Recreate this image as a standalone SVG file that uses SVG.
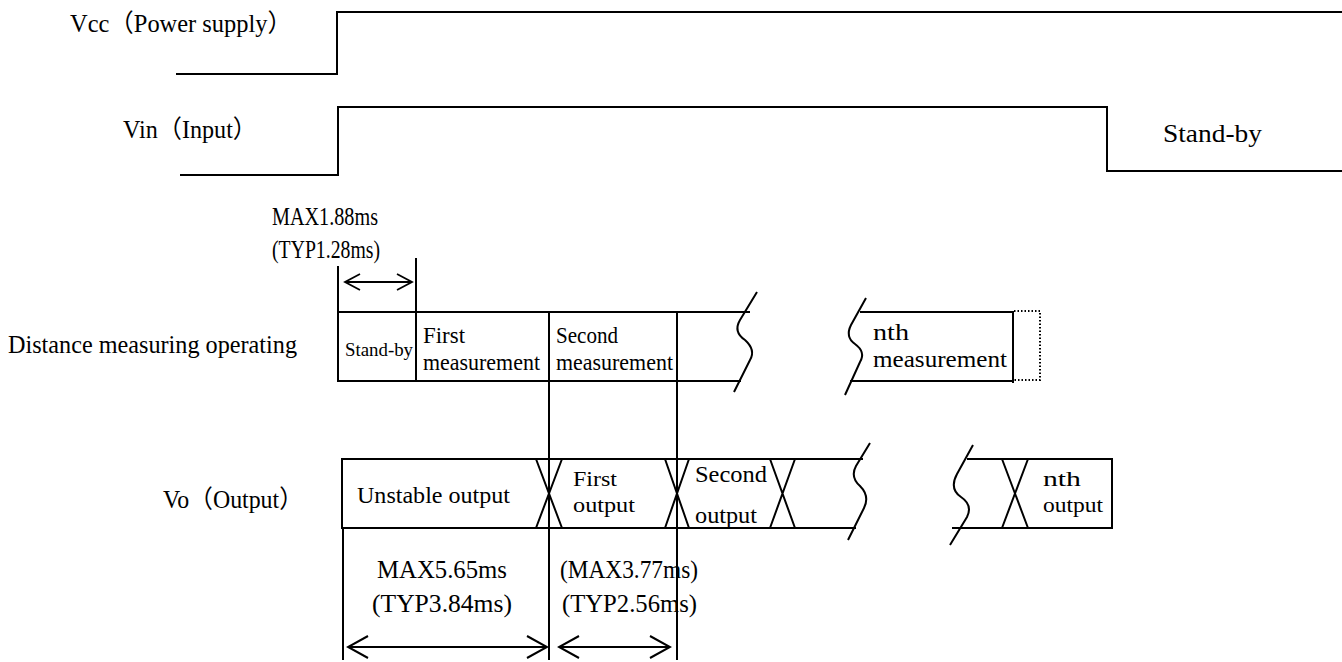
<svg xmlns="http://www.w3.org/2000/svg" width="1342" height="662" viewBox="0 0 1342 662">
<style>
text{font-family:"Liberation Serif","Noto Sans CJK JP",serif;fill:#000}
.lbl{font-size:25px}
.tm{font-size:26px}
.bx{font-size:24px}
.bs{font-size:22px}
.sm{font-size:19px}
.ln{fill:none;stroke:#000;stroke-width:2}
.dot{fill:none;stroke:#000;stroke-width:2;stroke-dasharray:1.5 2}
</style>
<defs>
<marker id="ah" viewBox="-22 -12 24 24" refX="0" refY="0" markerWidth="24" markerHeight="24" markerUnits="userSpaceOnUse" orient="auto-start-reverse">
<path d="M-20,-11 L0,0 L-20,11" fill="none" stroke="#000" stroke-width="2"/>
</marker>
<marker id="ahs" viewBox="-18 -10 20 20" refX="0" refY="0" markerWidth="20" markerHeight="20" markerUnits="userSpaceOnUse" orient="auto-start-reverse">
<path d="M-15,-8 L0,0 L-15,8" fill="none" stroke="#000" stroke-width="1.8"/>
</marker>
</defs>
<rect width="1342" height="662" fill="#fff"/>

<g id="vcc">
<text class="lbl" x="70" y="32" textLength="222" lengthAdjust="spacingAndGlyphs">Vcc（Power supply）</text>
<path class="ln" d="M176,74 H337 V12 H1342"/>
</g>

<g id="vin">
<text class="lbl" x="123" y="138" textLength="134" lengthAdjust="spacingAndGlyphs">Vin（Input）</text>
<path class="ln" d="M180,175 H338 V107 H1107 V171 H1342"/>
<text class="lbl" x="1163" y="142" textLength="99" lengthAdjust="spacingAndGlyphs">Stand-by</text>
</g>

<g id="startup-delay">
<text class="tm" x="272" y="225" textLength="106" lengthAdjust="spacingAndGlyphs">MAX1.88ms</text>
<text class="tm" x="272" y="258" textLength="108" lengthAdjust="spacingAndGlyphs">(TYP1.28ms)</text>
</g>

<g id="distance-measuring">
<text class="lbl" x="8" y="353" textLength="289" lengthAdjust="spacingAndGlyphs">Distance measuring operating</text>
<path class="ln" d="M750,312 H338 V381 H741"/>
<path class="ln" d="M338,266 V381"/>
<text class="sm" x="345" y="356" textLength="68" lengthAdjust="spacingAndGlyphs">Stand-by</text>
<text class="bx" x="423" y="343" textLength="42" lengthAdjust="spacingAndGlyphs">First</text>
<text class="bx" x="423" y="370" textLength="117" lengthAdjust="spacingAndGlyphs">measurement</text>
<text class="bx" x="556" y="343" textLength="62" lengthAdjust="spacingAndGlyphs">Second</text>
<text class="bx" x="556" y="370" textLength="117" lengthAdjust="spacingAndGlyphs">measurement</text>
<path class="ln" d="M757,292 L740,320 Q733,332 745,340 Q756,350 750,360 L734,392"/>
<path class="ln" d="M866,298 L851,325 Q845,337 855,344 Q866,352 860,362 L845,395"/>
<path class="ln" d="M860,312 H1013 V383 M850,381 H1013"/>
<text class="bx" x="873" y="340" textLength="36" lengthAdjust="spacingAndGlyphs">nth</text>
<text class="bx" x="873" y="367" textLength="134" lengthAdjust="spacingAndGlyphs">measurement</text>
<path class="dot" d="M1014,311 H1040 V380 H1014"/>
</g>

<g id="vo">
<text class="lbl" x="163" y="508" textLength="140" lengthAdjust="spacingAndGlyphs">Vo（Output）</text>
<path class="ln" d="M863,459 H342 V528 H856"/>
<path class="ln" d="M536,459 L562,528 M562,459 L536,528"/>
<path class="ln" d="M665,459 L689,528 M689,459 L665,528"/>
<path class="ln" d="M770,459 L795,528 M795,459 L770,528"/>
<path class="ln" d="M870,443 L856,466 Q850,477 860,486 Q870,496 864,508 L848,540"/>
<path class="ln" d="M973,445 L957,474 Q949,489 961,497 Q973,505 967,517 L950,545"/>
<path class="ln" d="M967,459 H1112 V528 H952"/>
<path class="ln" d="M1002,459 L1028,528 M1028,459 L1002,528"/>
<text class="bx" x="357" y="503" textLength="153" lengthAdjust="spacingAndGlyphs">Unstable output</text>
<text class="bs" x="573" y="486" textLength="44" lengthAdjust="spacingAndGlyphs">First</text>
<text class="bs" x="573" y="512" textLength="62" lengthAdjust="spacingAndGlyphs">output</text>
<text class="bx" x="695" y="482" textLength="72" lengthAdjust="spacingAndGlyphs">Second</text>
<text class="bx" x="695" y="523" textLength="62" lengthAdjust="spacingAndGlyphs">output</text>
<text class="bs" x="1043" y="486" textLength="38" lengthAdjust="spacingAndGlyphs">nth</text>
<text class="bs" x="1043" y="512" textLength="60" lengthAdjust="spacingAndGlyphs">output</text>
</g>

<g id="timing-labels">
<text class="tm" x="377" y="578" textLength="130" lengthAdjust="spacingAndGlyphs">MAX5.65ms</text>
<text class="tm" x="372" y="612" textLength="140" lengthAdjust="spacingAndGlyphs">(TYP3.84ms)</text>
<text class="tm" x="560" y="578" textLength="138" lengthAdjust="spacingAndGlyphs">(MAX3.77ms)</text>
<text class="tm" x="562" y="612" textLength="135" lengthAdjust="spacingAndGlyphs">(TYP2.56ms)</text>
</g>

<g id="connectors">
<path class="ln" d="M416,258 V381"/>
<path class="ln" d="M549,312 V660"/>
<path class="ln" d="M677,312 V660"/>
<path class="ln" d="M343,528 V660"/>
<line class="ln" x1="345" y1="282" x2="412" y2="282" marker-start="url(#ahs)" marker-end="url(#ahs)"/>
<line class="ln" x1="348" y1="647" x2="547" y2="647" marker-start="url(#ah)" marker-end="url(#ah)"/>
<line class="ln" x1="559" y1="647" x2="670" y2="647" marker-start="url(#ah)" marker-end="url(#ah)"/>
</g>
</svg>
